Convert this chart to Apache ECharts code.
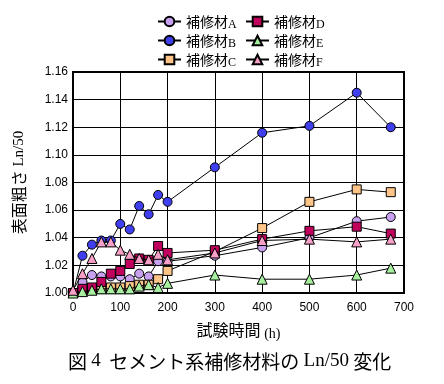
<!DOCTYPE html>
<html><head><meta charset="utf-8">
<script src="https://cdn.jsdelivr.net/npm/echarts@6/dist/echarts.min.js"></script>
<style>html,body{margin:0;padding:0;background:#fff}#c{width:444px;height:384px}</style>
</head><body><div id="c"></div>
<script>
const hours = [0,20,40,60,80,100,120,140,160,180,200,300,400,500,600,672];
const seriesNames = ['補修材A','補修材B','補修材C','補修材D','補修材E','補修材F'];
const valsA = [1.000,1.008,1.013,1.012,1.012,1.012,1.010,1.014,1.012,1.023,1.023,1.027,1.033,1.040,1.052,1.055];
const valsB = [1.000,1.027,1.035,1.038,1.038,1.050,1.046,1.063,1.057,1.071,1.066,1.091,1.116,1.121,1.145,1.120];
const valsC = [1.000,1.002,1.003,1.004,1.004,1.004,1.005,1.006,1.006,1.010,1.016,1.030,1.047,1.066,1.075,1.073];
const valsD = [1.000,1.003,1.004,1.008,1.014,1.016,1.021,1.025,1.024,1.034,1.029,1.031,1.039,1.045,1.048,1.043];
const valsE = [1.000,1.001,1.002,1.003,1.003,1.003,1.003,1.005,1.006,1.004,1.007,1.013,1.010,1.010,1.013,1.018];
const valsF = [1.002,1.014,1.025,1.037,1.037,1.031,1.028,1.025,1.024,1.028,1.024,1.029,1.038,1.039,1.037,1.039];
const xTicks = [0,100,200,300,400,500,600,700];
const yTicks = [1.00,1.02,1.04,1.06,1.08,1.10,1.12,1.14,1.16];

const allVals = [valsA,valsB,valsC,valsD,valsE,valsF];
const colors = ['#C8A0F0','#3F3FF0','#FFC488','#C0005C','#A8F0A0','#F8A0C8'];
const symbols = ['circle','circle','rect','rect','triangle','triangle'];
const sizes = [9,9,9,9,10,10];

const chart = echarts.init(document.getElementById('c'));
const sansFont = '"Liberation Sans", sans-serif';
const jpFont = '"Noto Sans CJK JP", sans-serif';
const serifFont = '"Liberation Serif", serif';

const series = seriesNames.map((n,i)=>({
  name:n, type:'line',
  data: hours.map((h,k)=>[h, allVals[i][k]]),
  symbol: symbols[i], symbolSize: sizes[i],
  lineStyle:{color:'#000', width:1},
  itemStyle:{color:colors[i], borderColor:'#000', borderWidth:1},
  clip:false, z: 2+i
}));

const legendCommon = {
  orient:'vertical', itemGap:0, itemWidth:23, itemHeight:12, padding:0,
  textStyle:{fontFamily:jpFont, fontSize:14, color:'#000', lineHeight:19,
    rich:{s:{fontFamily:serifFont, fontSize:12, color:'#000', lineHeight:12, padding:[7,0,0,0]}}},
  formatter: n => n.slice(0,3) + '{s|' + n.slice(3) + '}'
};

chart.setOption({
  animation:false,
  backgroundColor:'#fff',
  grid:{left:73, right:40, top:72, bottom:91, show:true, borderColor:'#000', borderWidth:2},
  legend:[
    Object.assign({}, legendCommon, {left:157, top:12, data:seriesNames.slice(0,3)}),
    Object.assign({}, legendCommon, {left:245, top:12, data:seriesNames.slice(3,6)})
  ],
  xAxis:{type:'value', min:xTicks[0], max:xTicks[xTicks.length-1], interval:100,
    name:'試験時間 {s|(h)}', nameLocation:'middle', nameGap:26,
    nameTextStyle:{fontFamily:jpFont, fontSize:16, color:'#000',
      rich:{s:{fontFamily:serifFont, fontSize:14, color:'#000', padding:[8,0,0,0]}}},
    axisLine:{show:false}, axisTick:{show:false},
    axisLabel:{fontFamily:sansFont, fontSize:12, color:'#000', margin:9},
    splitLine:{lineStyle:{color:'#000', width:1}}},
  yAxis:{type:'value', min:yTicks[0], max:yTicks[yTicks.length-1], interval:0.02,
    name:'表面粗さ {s|Ln/50}', nameLocation:'middle', nameGap:46, nameRotate:90,
    nameTextStyle:{fontFamily:jpFont, fontSize:16, color:'#000',
      rich:{s:{fontFamily:serifFont, fontSize:15, color:'#000'}}},
    axisLine:{show:false}, axisTick:{show:false},
    axisLabel:{fontFamily:sansFont, fontSize:12, color:'#000', margin:5, formatter:v=>v.toFixed(2)},
    splitLine:{lineStyle:{color:'#000', width:1}}},
  graphic:[{type:'text', left:68, top:352,
    style:{text:'図 {s|4}  セメント系補修材料の {s|Ln/50} 変化', fontFamily:jpFont, fontSize:19, fill:'#000',
      rich:{s:{fontFamily:serifFont, fontSize:19, fill:'#000'}}}}],
  series: series
});
</script></body></html>
